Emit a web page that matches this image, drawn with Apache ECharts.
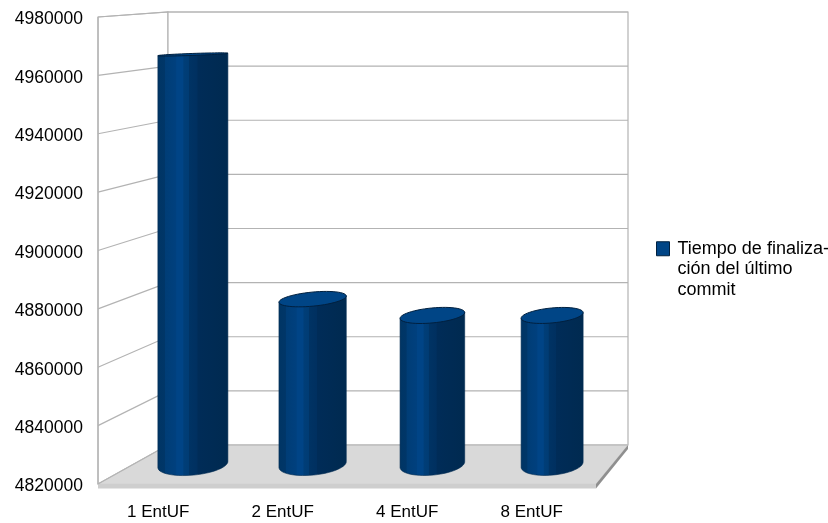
<!DOCTYPE html>
<html>
<head>
<meta charset="utf-8">
<style>html,body{margin:0;padding:0;background:#fff}#chart{width:828px;height:523px}</style>
<script src="https://cdn.jsdelivr.net/npm/echarts@6/dist/echarts.min.js"></script>
</head>
<body>
<div id="chart"></div>
<script>
// Commit completion time for each EntUF count
const categories = ['1 EntUF', '2 EntUF', '4 EntUF', '8 EntUF'];
const commitTimes = [4965800, 4878800, 4873000, 4873000];
const seriesName = 'Tiempo de finalización del último commit';
const legendLines = ['Tiempo de finaliza-', 'ción del último', 'commit'];
const axisMin = 4820000;
const axisMax = 4980000;
const axisStep = 20000;
const tickValues = [4820000, 4840000, 4860000, 4880000, 4900000, 4920000, 4940000, 4960000, 4980000];

// The grid is the front plane of the box; the back plane is offset and shrunk.
const FONT = '"Liberation Sans", Arial, sans-serif';
const LINE = '#b3b3b3';
const backOffset = { left: 70, right: 32, top: -5, bottom: -39 };

function project(cs, x, y, depth) {
  const fx = (x - cs.x) / cs.width;
  const fy = (y - cs.y) / cs.height;
  const backLeft = cs.x + backOffset.left;
  const backRight = cs.x + cs.width + backOffset.right;
  const backTop = cs.y + backOffset.top;
  const backBottom = cs.y + cs.height + backOffset.bottom;
  const bx = backLeft + fx * (backRight - backLeft);
  const by = backTop + fy * (backBottom - backTop);
  return [x + depth * (bx - x), y + depth * (by - y)];
}

// Point on a tilted ellipse, scaled so its horizontal extent stays equal to a
function ellipsePoint(cx, cy, a, b, tiltDeg, t) {
  const r = tiltDeg * Math.PI / 180;
  const ex = a * Math.cos(t), ey = b * Math.sin(t);
  const span = Math.sqrt(a * a * Math.cos(r) * Math.cos(r) + b * b * Math.sin(r) * Math.sin(r));
  const k = a / span;
  return [cx + k * (ex * Math.cos(r) - ey * Math.sin(r)), cy + k * (ex * Math.sin(r) + ey * Math.cos(r))];
}

function ellipseArc(cx, cy, a, b, tilt, from, to, steps) {
  const pts = [];
  for (let i = 0; i <= steps; i++) pts.push(ellipsePoint(cx, cy, a, b, tilt, from + (to - from) * i / steps));
  return pts;
}

function minorAxis(y) { return Math.max(1, 0.027 * (y - 40)); }
function tiltFor(b) { return -Math.min(5.5, 1 + b); }

// Walls and floor of the box
function renderBox(params, api) {
  const cs = params.coordSys;
  const L = cs.x, R = cs.x + cs.width, T = cs.y, B = cs.y + cs.height;
  const bTL = project(cs, L, T, 1), bTR = project(cs, R, T, 1);
  const bBL = project(cs, L, B, 1), bBR = project(cs, R, B, 1);
  const lineStyle = { fill: 'none', stroke: LINE, lineWidth: 1.2 };
  return {
    type: 'group',
    children: [
      { type: 'polygon', shape: { points: [[L, T], bTL, bBL, [L, B]] }, style: { fill: '#fff', stroke: LINE, lineWidth: 1.2 } },
      { type: 'polygon', shape: { points: [bTL, bTR, bBR, bBL] }, style: { fill: '#fff', stroke: LINE, lineWidth: 1.2 } },
      { type: 'polygon', shape: { points: [bBL, bBR, [R, B], [L, B]] }, style: { fill: '#d9d9d9', stroke: '#d2d2d2', lineWidth: 1 } },
      { type: 'polygon', shape: { points: [[L, B], [R, B], [R, B + 4.5], [L, B + 4.5]] }, style: { fill: '#cecece' } },
      { type: 'polygon', shape: { points: [bBR, [bBR[0], bBR[1] + 4], [R, B + 4.5], [R, B]] }, style: { fill: '#8f8f8f' } },
      { type: 'polyline', shape: { points: [[L, T], [L, B]] }, style: lineStyle }
    ]
  };
}

// One grid line per tick: along the left wall, then across the back wall
function renderGridLine(params, api) {
  const cs = params.coordSys;
  const y = api.coord([0, api.value(0)])[1];
  const back = project(cs, cs.x, y, 1);
  const backEnd = project(cs, cs.x + cs.width, y, 1);
  return {
    type: 'polyline',
    shape: { points: [[cs.x, y], back, backEnd] },
    style: { fill: 'none', stroke: LINE, lineWidth: 1.2 }
  };
}

// A cylinder standing halfway into the box
function renderCylinder(params, api) {
  const cs = params.coordSys;
  const topFront = api.coord([api.value(0), api.value(1)]);
  const baseFront = api.coord([api.value(0), axisMin]);
  const top = project(cs, topFront[0], topFront[1], 0.5);
  const base = project(cs, baseFront[0], baseFront[1], 0.5);
  const a = (70 - (top[0] - 193) * 0.0223) / 2;
  const bTop = minorAxis(top[1]);
  const bBase = minorAxis(base[1]) * 0.92;
  const tTop = tiltFor(bTop);
  const tBase = tiltFor(bBase);
  const lower = ellipseArc(base[0], base[1], a, bBase, tBase, Math.PI, 0, 28);
  const body = [ellipsePoint(top[0], top[1], a, bTop, tTop, Math.PI)]
    .concat(lower)
    .concat([ellipsePoint(top[0], top[1], a, bTop, tTop, 0)]);
  const bodyFill = new echarts.graphic.LinearGradient(0, 0, 1, 0, [
    { offset: 0, color: '#003564' },
    { offset: 0.1, color: '#003668' },
    { offset: 0.11, color: '#003d76' },
    { offset: 0.26, color: '#00407e' },
    { offset: 0.27, color: '#004486' },
    { offset: 0.36, color: '#004486' },
    { offset: 0.37, color: '#003e78' },
    { offset: 0.44, color: '#003c74' },
    { offset: 0.45, color: '#003364' },
    { offset: 0.56, color: '#003060' },
    { offset: 0.57, color: '#002c58' },
    { offset: 1, color: '#002a50' }
  ]);
  const cap = ellipseArc(top[0], top[1], a, bTop, tTop, 0, Math.PI * 2, 56);
  return {
    type: 'group',
    children: [
      { type: 'polygon', shape: { points: body }, style: { fill: bodyFill, stroke: '#002a50', lineWidth: 0.6 } },
      { type: 'polygon', shape: { points: cap }, style: { fill: '#004586', stroke: '#00203f', lineWidth: 1 } }
    ]
  };
}

const chart = echarts.init(document.getElementById('chart'), null, { renderer: 'canvas' });
chart.setOption({
  animation: false,
  backgroundColor: '#ffffff',
  grid: { left: 98, top: 17, width: 498, height: 467, containLabel: false },
  xAxis: {
    type: 'category',
    data: categories,
    axisLine: { show: false },
    axisTick: { show: false },
    splitLine: { show: false },
    axisLabel: { color: '#000', fontFamily: FONT, fontSize: 17, margin: 20, padding: [0, 4, 0, 0] }
  },
  yAxis: {
    type: 'value',
    min: axisMin,
    max: axisMax,
    interval: axisStep,
    axisLine: { show: false },
    axisTick: { show: false },
    splitLine: { show: false },
    axisLabel: {
      margin: 15,
      formatter: v => '{v|' + v + '}',
      // Top padding nudges the digits just below each tick's height
      rich: { v: { color: '#000', fontFamily: FONT, fontSize: 17.5, padding: [5, 0, 0, 0] } }
    }
  },
  legend: {
    left: 656,
    top: 196,
    orient: 'vertical',
    itemWidth: 13,
    itemHeight: 14,
    itemGap: 0,
    padding: 0,
    selectedMode: false,
    data: [{ name: seriesName, icon: 'rect', itemStyle: { color: '#004586', borderColor: '#00203f', borderWidth: 1 } }],
    // The two empty lines keep the swatch level with the first line of text
    formatter: () => '\n\n' + legendLines.join('\n'),
    textStyle: { color: '#000', fontFamily: FONT, fontSize: 18, lineHeight: 20.5, padding: [3, 0, 0, 3] }
  },
  series: [
    { type: 'custom', name: 'box', silent: true, renderItem: renderBox, data: [[0]], z: 1, encode: { x: -1, y: -1 } },
    { type: 'custom', name: 'rejilla', silent: true, renderItem: renderGridLine, data: tickValues.map(v => [v]), z: 2, encode: { y: 0, x: -1 } },
    {
      type: 'custom',
      name: seriesName,
      renderItem: renderCylinder,
      data: commitTimes.map((v, i) => [i, v]),
      encode: { x: 0, y: 1 },
      itemStyle: { color: '#004586' },
      z: 3
    }
  ]
});
</script>
</body>
</html>
